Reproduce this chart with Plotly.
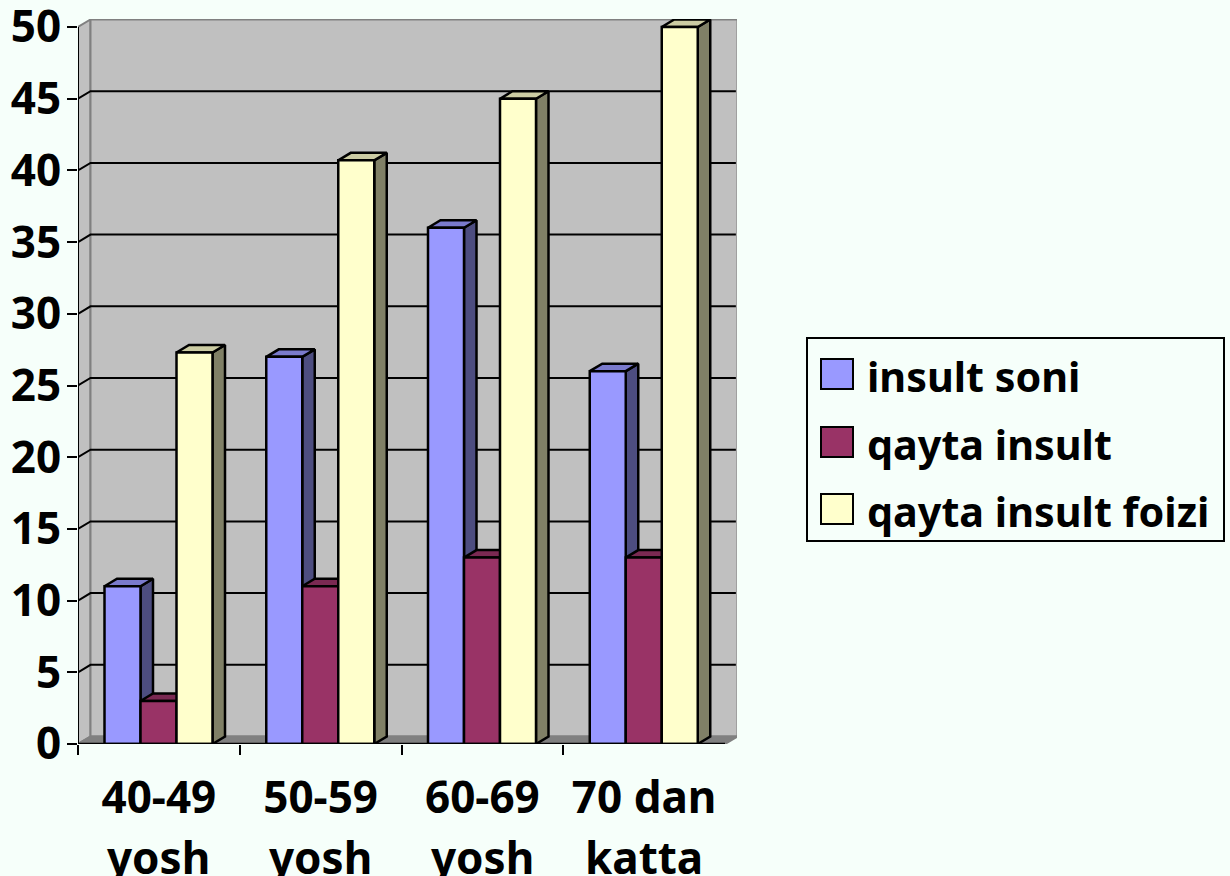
import plotly.graph_objects as go

categories_top = ["40-49", "50-59", "60-69", "70 dan"]
categories_bottom = ["yosh", "yosh", "yosh", "katta"]
series_names = ["insult soni", "qayta insult", "qayta insult foizi"]
insult_soni = [11, 27, 36, 26]
qayta_insult = [3, 11, 13, 13]
qayta_insult_foizi = [27.3, 40.7, 45, 50]
y_ticks = [0, 5, 10, 15, 20, 25, 30, 35, 40, 45, 50]
series_values = [insult_soni, qayta_insult, qayta_insult_foizi]

front_colors = ["#9999FF", "#993366", "#FFFFCC"]
side_colors = ["#4D4D80", "#4D1A33", "#808066"]
top_colors = ["#7A7ACC", "#7A2952", "#CCCCA3"]
BG = "#F6FFFA"
WALL = "#C0C0C0"
EDGE = "#808080"
FONT = "Noto Sans"

# page geometry
W, H = 1230, 876
L, R, T, B = 78, 737, 19, 744
CAT_PX = 161.75
UNIT_PX = 14.34
DX = 12.5 / CAT_PX          # depth offset in category units
DY = 7.5 / UNIT_PX          # depth offset in value units
BAR_W = 36 / CAT_PX
GAP = 26.5 / CAT_PX
NCAT = len(categories_top)
YMAX = y_ticks[-1]


def px(x):
    return (x - L) / (R - L)


def py(y):
    return (B - y) / (B - T)


fig = go.Figure()


def poly(xs, ys, fill, line, z, width=2):
    fig.add_trace(go.Scatter(
        x=xs, y=ys, mode="lines", fill="toself" if fill else None, fillcolor=fill,
        line=dict(color=line, width=width), hoverinfo="skip", showlegend=False,
        cliponaxis=False, zorder=z))


# walls and floor
poly([0, DX, DX, 0, 0], [0, DY, YMAX + DY, YMAX, 0], WALL, EDGE, 0)
poly([DX, NCAT + DX, NCAT + DX, DX, DX], [DY, DY, YMAX + DY, YMAX + DY, DY], WALL, EDGE, 0)
poly([0, NCAT, NCAT + DX, DX, 0], [0, 0, DY, DY, 0], EDGE, EDGE, 0)

# gridlines: slanted on the side wall, level on the back wall
gx, gy = [], []
for v in y_ticks[1:-1]:
    gx += [0, DX, NCAT + DX - 0.01, None]
    gy += [v, v + DY, v + DY, None]
poly(gx, gy, None, "#000000", 1)

# bars, drawn from left to right
z = 2
for c in range(NCAT):
    for s, values in enumerate(series_values):
        x0 = c + GAP + s * BAR_W
        x1 = x0 + BAR_W
        v = values[c]
        poly([x1, x1 + DX, x1 + DX, x1, x1], [0, DY, v + DY, v, 0], side_colors[s], "#000000", z, 2.5)
        poly([x0, x1, x1 + DX, x0 + DX, x0], [v, v, v + DY, v + DY, v], top_colors[s], "#000000", z, 2.5)
        fig.add_trace(go.Bar(
            x=[(x0 + x1) / 2], y=[v], width=[BAR_W], name=series_names[s],
            marker=dict(color=front_colors[s], line=dict(color="#000000", width=2.5)),
            showlegend=False, cliponaxis=False, zorder=z + 1))
        z += 2

# axis lines
poly([0, 0], [0, YMAX], None, "#000000", z)
poly([0, NCAT], [0, 0], None, "#000000", z, 2.5)

shapes = []
annotations = []
# second line of the category labels
for i, t in enumerate(categories_bottom):
    annotations.append(dict(
        x=i + 0.5, y=0, xref="x", yref="y", text=t, showarrow=False,
        yanchor="top", yshift=-81, font=dict(family=FONT, size=44, weight=700, color="#000000")))

# legend box
shapes.append(dict(type="rect", xref="paper", yref="paper", x0=px(807), x1=px(1224), y0=py(338), y1=py(541),
                   fillcolor=BG, line=dict(color="#000000", width=2)))
legend_y = [376, 444, 511]
for name, color, yc in zip(series_names, front_colors, legend_y):
    shapes.append(dict(type="rect", xref="paper", yref="paper", x0=px(821), x1=px(853),
                       y0=py(yc - 17), y1=py(yc + 13), fillcolor=color, line=dict(color="#000000", width=2)))
    annotations.append(dict(x=px(868), y=py(yc), xref="paper", yref="paper", text=name, showarrow=False,
                            xanchor="left", yanchor="middle", xshift=-3,
                            font=dict(family=FONT, size=41.3, weight=700, color="#000000")))

fig.update_layout(
    width=W, height=H, autosize=False,
    margin=dict(l=L, r=W - R, t=T, b=H - B, pad=0, autoexpand=False),
    paper_bgcolor=BG, plot_bgcolor=BG,
    showlegend=False, barmode="overlay", shapes=shapes, annotations=annotations,
    xaxis=dict(
        range=[0, (R - L) / CAT_PX], showgrid=False, zeroline=False, showline=False, automargin=False,
        tickmode="array", tickvals=[i + 0.5 for i in range(NCAT)], ticktext=categories_top,
        ticks="", ticklabelstandoff=24, ticklabeloverflow="allow",
        tickfont=dict(family=FONT, size=44, weight=700, color="#000000"),
        minor=dict(tickmode="array", tickvals=list(range(NCAT)), ticks="outside",
                   ticklen=10, tickwidth=2, tickcolor="#000000", showgrid=False),
    ),
    yaxis=dict(
        range=[0, (B - T) / UNIT_PX], showgrid=False, zeroline=False, showline=False, automargin=False,
        tickmode="array", tickvals=y_ticks, ticks="outside", ticklen=10, tickwidth=2,
        tickcolor="#000000", ticklabelstandoff=-3, ticklabeloverflow="allow",
        tickfont=dict(family=FONT, size=44, weight=700, color="#000000"),
    ),
)

fig.write_html("out.html", config=dict(displayModeBar=False),
               post_script="document.body.style.margin='0';document.body.style.background='%s';" % BG)
